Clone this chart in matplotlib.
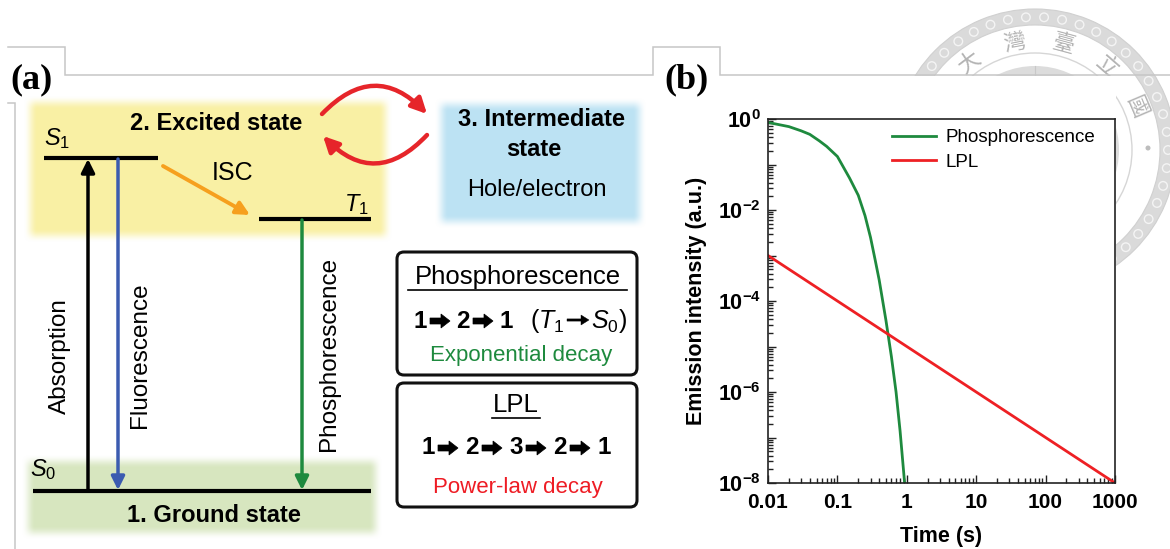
import numpy as np
import matplotlib
matplotlib.use('Agg')
import matplotlib.pyplot as plt
import matplotlib.colors as mcolors
from matplotlib.patches import FancyBboxPatch, FancyArrowPatch, FancyArrow, Wedge, Circle, Rectangle
from matplotlib.ticker import FixedLocator, FuncFormatter, LogLocator, NullFormatter

plt.rcParams['font.family'] = ['Liberation Sans', 'DejaVu Sans']
plt.rcParams['mathtext.fontset'] = 'custom'
plt.rcParams['mathtext.rm'] = 'Liberation Sans'
plt.rcParams['mathtext.it'] = 'Liberation Sans:italic'
plt.rcParams['mathtext.bf'] = 'Liberation Sans:bold'

# ---------------- data (panel b) ----------------
time_phos = [0.01, 0.02, 0.03, 0.04, 0.055, 0.07, 0.1, 0.15, 0.2, 0.25, 0.3,
             0.35, 0.4, 0.5, 0.6, 0.7, 0.8, 0.93]
intensity_phos = [0.84, 0.68, 0.55, 0.46, 0.33, 0.25, 0.15, 0.05, 0.021, 0.0075,
                  0.0025, 8e-4, 2.9e-4, 3.8e-5, 6e-6, 1.0e-6, 1.4e-7, 1e-8]
time_lpl = [0.01, 1, 1000]
intensity_lpl = [1e-3, 1e-5, 1e-8]
series_names = ['Phosphorescence', 'LPL']
x_ticks = [0.01, 0.1, 1, 10, 100, 1000]
x_tick_labels = ['0.01', '0.1', '1', '10', '100', '1000']
y_major_exps = list(range(-8, 1))
y_label_exps = [0, -2, -4, -6, -8]
x_label = 'Time (s)'
y_label = 'Emission intensity (a.u.)'

# ---------------- text (panel a) ----------------
state_labels = ['1. Ground state', '2. Excited state', '3. Intermediate', 'state', 'Hole/electron']
transition_labels = ['Absorption', 'Fluorescence', 'Phosphorescence', 'ISC']
level_labels = [r'$\mathit{S}_{\mathrm{1}}$', r'$\mathit{T}_{\mathrm{1}}$', r'$\mathit{S}_{\mathrm{0}}$']
box_titles = ['Phosphorescence', 'LPL']
box_paths = [['1', '2', '1'], ['1', '2', '3', '2', '1']]
note_left = r'$(\mathit{T}_{\mathrm{1}}$'
note_right = r'$\mathit{S}_{\mathrm{0}})$'
box_decays = ['Exponential decay', 'Power-law decay']
seal_chars = ['大', '灣', '臺', '立', '國']

# colours
C_YEL = '#f9f0a4'
C_GRN_BG = '#d7e6bf'
C_BLU_BG = '#bce2f3'
C_FLUO = '#3b5bb0'
C_PHOS = '#1e8a3e'
C_ISC = '#f6a01e'
C_RED = '#e6252a'
C_FRAME = '#c6c6c6'

W, H = 1170, 549
fig = plt.figure(figsize=(W / 100, H / 100), dpi=100)
ax0 = fig.add_axes([0, 0, 1, 1])
ax0.set_axis_off()


def soft_box(ax, x0, y0, x1, y1, color, blur=7, z=1):
    pad = blur
    nx = int(x1 - x0 + 2 * pad)
    ny = int(y1 - y0 + 2 * pad)
    xs = np.linspace(x0 - pad, x1 + pad, nx)
    ys = np.linspace(y0 - pad, y1 + pad, ny)

    def prof(v, a, b):
        d = np.minimum(v - a, b - v)
        t = np.clip((d + pad) / (2 * pad), 0, 1)
        return t * t * (3 - 2 * t)

    alpha = np.outer(prof(ys, y0, y1), prof(xs, x0, x1))
    rgba = np.zeros((ny, nx, 4))
    rgba[..., :3] = mcolors.to_rgb(color)
    rgba[..., 3] = alpha
    ax.imshow(rgba, extent=(x0 - pad, x1 + pad, y1 + pad, y0 - pad), origin='upper',
              aspect='auto', zorder=z, interpolation='bilinear')


# ---------------- watermark seal ----------------
cx, cy = 1035, 150
ax0.add_patch(Wedge((cx, cy), 141, 0, 360, width=16, fc='#dadada', ec='#d0d0d0', lw=0.8, zorder=1))
for k in range(46):
    a = np.deg2rad(k * 360 / 46)
    ax0.add_patch(Circle((cx + 133 * np.cos(a), cy - 133 * np.sin(a)), 4.3, fc='none',
                         ec='#f4f4f4', lw=1.0, zorder=1))
ax0.add_patch(Circle((cx, cy), 97, fc='none', ec='#d6d6d6', lw=1.0, zorder=1))
ax0.add_patch(Circle((cx, cy), 84, fc='#dcdcdc', ec='none', zorder=1))
ax0.plot([cx, cx], [cy - 84, cy - 60], color='#c8c8c8', lw=0.8, zorder=1)
for ch, ang in zip(seal_chars, [127, 101, 75, 49, 23]):
    a = np.deg2rad(ang)
    ax0.text(cx + 110 * np.cos(a), cy - 110 * np.sin(a), ch, rotation=ang - 90,
             fontsize=16, color='#b4b4b4', ha='center', va='center',
             family=['Noto Sans CJK TC', 'DejaVu Sans'], fontweight='light', zorder=1)
ax0.add_patch(Circle((cx + 113, cy - 2), 2.5, fc='#bdbdbd', ec='none', zorder=1))
ax0.add_patch(Rectangle((653, 75.5), 1116 - 653, H - 75.5, fc='white', ec='none', zorder=2))

# ---------------- frame lines ----------------
frame_pts = [[(8, 47), (65, 47), (65, 75), (653, 75), (653, 47), (720, 47), (720, 75), (1170, 75)],
             [(8, 103), (15, 103), (15, 549)]]
for pts in frame_pts:
    xs, ys = zip(*pts)
    ax0.plot(xs, ys, color=C_FRAME, lw=1.1, zorder=3, solid_joinstyle='miter')

ax0.text(32, 80, '(a)', family='Liberation Serif', fontweight='bold', fontsize=26,
         ha='center', va='center', zorder=4)
ax0.text(687, 80, '(b)', family='Liberation Serif', fontweight='bold', fontsize=26,
         ha='center', va='center', zorder=4)

# ---------------- panel a ----------------
soft_box(ax0, 30, 102, 386, 236, C_YEL, z=2)
soft_box(ax0, 28, 461, 376, 533, C_GRN_BG, z=2)
soft_box(ax0, 441, 104, 640, 222, C_BLU_BG, z=2)

# levels
for (x0, x1, y) in [(44, 158, 158), (259, 371, 219), (33, 371, 491)]:
    ax0.plot([x0, x1], [y, y], color='black', lw=3.0, solid_capstyle='butt', zorder=5)


def arrow(p0, p1, color, lw=2.5, ms=20, z=5):
    ax0.annotate('', xy=p1, xytext=p0, zorder=z,
                 arrowprops=dict(arrowstyle='-|>', color=color, lw=lw, mutation_scale=ms,
                                 shrinkA=0, shrinkB=0))


arrow((88, 490), (88, 159), 'black')
arrow((118, 159), (118, 490), C_FLUO)
arrow((302, 220), (302, 490), C_PHOS)
arrow((163, 166), (250, 215), C_ISC, lw=2.8)

for (p0, p1) in [((322, 114), (427, 114)), ((427, 135), (323, 136))]:
    ax0.add_patch(FancyArrowPatch(p0, p1, connectionstyle='arc3,rad=-0.52', arrowstyle='-|>',
                                  color=C_RED, lw=3.2, mutation_scale=23, shrinkA=0,
                                  shrinkB=0, zorder=5))

fs_big = 17
ax0.text(216, 124, state_labels[1], fontsize=fs_big, fontweight='bold', ha='center', va='center', zorder=6)
ax0.text(214, 516, state_labels[0], fontsize=fs_big, fontweight='bold', ha='center', va='center', zorder=6)
ax0.text(542, 120, state_labels[2], fontsize=fs_big, fontweight='bold', ha='center', va='center', zorder=6)
ax0.text(534, 149, state_labels[3], fontsize=fs_big, fontweight='bold', ha='center', va='center', zorder=6)
ax0.text(537, 190, state_labels[4], fontsize=fs_big, ha='center', va='center', zorder=6)

ax0.text(60, 356, transition_labels[0], fontsize=17.5, rotation=90, ha='center', va='center', zorder=6)
ax0.text(140, 355, transition_labels[1], fontsize=17.5, rotation=90, ha='center', va='center', zorder=6)
ax0.text(329, 354, transition_labels[2], fontsize=17.5, rotation=90, ha='center', va='center', zorder=6)
ax0.text(233, 173, transition_labels[3], fontsize=18, ha='center', va='center', zorder=6)

ax0.text(57, 139, level_labels[0], fontsize=17, ha='center', va='center', zorder=6)
ax0.text(356, 205, level_labels[1], fontsize=17, ha='center', va='center', zorder=6)
ax0.text(43, 470, level_labels[2], fontsize=17, ha='center', va='center', zorder=6)

# boxes
for (y0, h) in [(252, 123), (383, 124)]:
    ax0.add_patch(FancyBboxPatch((397, y0), 240, h, boxstyle='round,pad=0,rounding_size=7',
                                 fc='white', ec='#111111', lw=2.2, zorder=5))

ax0.text(518, 277, box_titles[0], fontsize=18.5, ha='center', va='center', zorder=6)
ax0.plot([408, 627], [290, 290], color='black', lw=1.2, zorder=6)
ax0.text(516, 405, box_titles[1], fontsize=18.5, ha='center', va='center', zorder=6)
ax0.plot([492, 540], [418, 418], color='black', lw=1.2, zorder=6)


def path_seq(tokens, x_start, y, step_digit=21, step_arrow=22):
    x = x_start
    for i, t in enumerate(tokens):
        ax0.text(x, y, t, fontsize=17.5, fontweight='bold', ha='center', va='center', zorder=6)
        if i < len(tokens) - 1:
            ax0.add_patch(FancyArrow(x + 10, y, 20, 0, width=6, head_width=14, head_length=9,
                                     length_includes_head=True, fc='black', ec='black', lw=0.5,
                                     zorder=6))
            x += step_digit + step_arrow


path_seq(box_paths[0], 420, 321)
ax0.text(564, 321, note_left, fontsize=18, ha='right', va='center', zorder=6)
ax0.add_patch(FancyArrow(567, 320, 22, 0, width=2.2, head_width=10, head_length=8,
                         length_includes_head=True, fc='black', ec='black', lw=0.3, zorder=6))
ax0.text(591, 321, note_right, fontsize=18, ha='left', va='center', zorder=6)
path_seq(box_paths[1], 428, 448, step_digit=21, step_arrow=23)

ax0.text(521, 355, box_decays[0], fontsize=16, color=C_PHOS, ha='center', va='center', zorder=6)
ax0.text(518, 488, box_decays[1], fontsize=16, color='#ee1c24', ha='center', va='center', zorder=6)

ax0.set_xlim(0, W)
ax0.set_ylim(H, 0)

# ---------------- panel b ----------------
ax = fig.add_axes([768 / W, 1 - 483 / H, 347 / W, 364 / H])
ax.set_xscale('log')
ax.set_yscale('log')
ax.plot(time_phos, intensity_phos, color=C_PHOS, lw=2.0, label=series_names[0])
ax.plot(time_lpl, intensity_lpl, color='#ee2024', lw=2.0, label=series_names[1])
ax.set_xlim(0.01, 1000)
ax.set_ylim(1e-8, 1)

ax.xaxis.set_major_locator(FixedLocator(x_ticks))
ax.xaxis.set_minor_locator(LogLocator(base=10, subs=np.arange(2, 10), numticks=100))
ax.xaxis.set_minor_formatter(NullFormatter())
ax.set_xticklabels(x_tick_labels, fontweight='bold', fontsize=15)

ax.yaxis.set_major_locator(FixedLocator([10.0 ** e for e in y_major_exps]))
ax.yaxis.set_minor_locator(LogLocator(base=10, subs=np.arange(2, 10), numticks=100))
ax.yaxis.set_minor_formatter(NullFormatter())


def yfmt(v, pos):
    e = int(round(np.log10(v)))
    return r'$\mathbf{10^{%d}}$' % e if e in y_label_exps else ''


ax.yaxis.set_major_formatter(FuncFormatter(yfmt))
ax.tick_params(axis='y', labelsize=15.5)

ax.tick_params(which='both', direction='in', top=False, right=False, color='#222222', width=1.0)
ax.tick_params(which='major', length=6)
ax.tick_params(which='minor', length=3.5)
ax.tick_params(axis='x', pad=7)
ax.tick_params(axis='y', pad=5)
for s in ax.spines.values():
    s.set_linewidth(1.2)
    s.set_color('#222222')

ax.set_xlabel(x_label, fontsize=15.5, fontweight='bold', labelpad=10)
ax.set_ylabel(y_label, fontsize=15.5, fontweight='bold', labelpad=8)

ax.legend(loc='upper left', bbox_to_anchor=((892 - 768) / 347, 0.972), frameon=False,
          fontsize=13.5, handlelength=2.35, handletextpad=0.5, labelspacing=0.38,
          borderaxespad=0, borderpad=0)

fig.savefig('out.png', dpi=100)
